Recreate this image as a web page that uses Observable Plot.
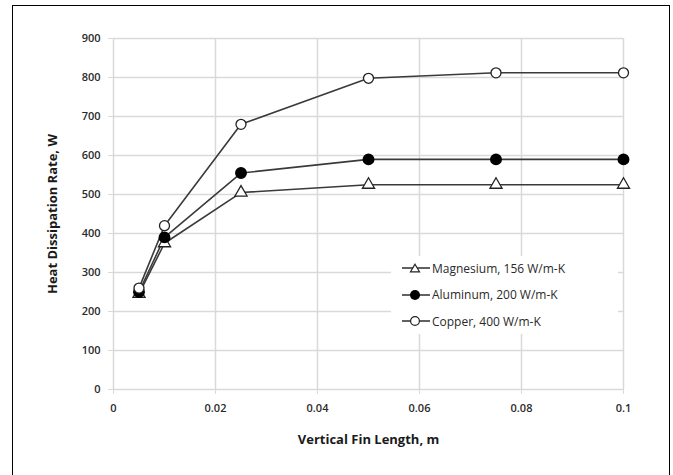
<!DOCTYPE html>
<html><head><meta charset="utf-8">
<script src="https://cdn.jsdelivr.net/npm/d3@7"></script>
<script src="https://cdn.jsdelivr.net/npm/@observablehq/plot@0.6"></script>
<style>
body{margin:0;background:#fff;font-family:"Open Sans",sans-serif;}
#wrap{position:relative;width:673px;height:475px;overflow:hidden;}
#border{position:absolute;left:12px;top:5px;width:658px;height:500px;border:1.5px solid #000;box-sizing:border-box;pointer-events:none}
#chart{position:absolute;left:0;top:0}
#legend{position:absolute;left:391px;top:256px;width:227px;height:78px;background:#fff;}
.row{position:absolute;left:10px;height:16px;display:flex;align-items:center;font-size:12px;color:#2a2a2a;white-space:nowrap}
.row svg{margin-right:1px}
</style></head>
<body><div id="wrap"><div id="chart"></div><div id="legend"></div><div id="border"></div></div>
<script>
const finLength = [0.005, 0.01, 0.025, 0.05, 0.075, 0.1];
const magnesium = [245, 375, 505, 525, 525, 525];
const aluminum  = [250, 390, 555, 590, 590, 590];
const copper    = [260, 420, 680, 798, 812, 812];
const seriesNames = ["Magnesium, 156 W/m-K", "Aluminum, 200 W/m-K", "Copper, 400 W/m-K"];
const xTicks = [0, 0.02, 0.04, 0.06, 0.08, 0.1];
const yTicks = [0, 100, 200, 300, 400, 500, 600, 700, 800, 900];

const seriesValues = [magnesium, aluminum, copper];
const rows = seriesNames.flatMap((s, i) => finLength.map((x, j) => ({series: s, x, y: seriesValues[i][j]})));
const bySeries = s => rows.filter(d => d.series === s);

const lineColor = "#3a3a3a";
const svg = Plot.plot({
  width: 673, height: 475,
  marginLeft: 113, marginRight: 50, marginTop: 38, marginBottom: 86,
  style: {fontFamily: "'Open Sans', sans-serif", fontSize: "11px", background: "transparent"},
  x: {domain: [0, 0.1]},
  y: {domain: [0, 900]},
  marks: [
    Plot.gridX(xTicks, {stroke: "#d9d9d9", strokeOpacity: 1, strokeWidth: 1.5}),
    Plot.gridY(yTicks, {stroke: "#d9d9d9", strokeOpacity: 1, strokeWidth: 1.5}),
    Plot.axisX({ticks: xTicks, tickSize: 5, tickPadding: 10, stroke: "#d9d9d9", strokeOpacity: 1, fill: "#2a2a2a", fontWeight: 600,
      tickFormat: d => d === 0 ? "0" : String(+d.toFixed(2)),
      label: "Vertical Fin Length, m", labelAnchor: "center", labelArrow: "none", labelOffset: 54}),
    Plot.axisY({ticks: yTicks, tickSize: 5, tickPadding: 8, stroke: "#d9d9d9", strokeOpacity: 1, fill: "#2a2a2a", fontWeight: 600,
      label: "Heat Dissipation Rate, W", labelAnchor: "center", labelArrow: "none", labelOffset: 66}),
    ...seriesNames.map(s => Plot.line(bySeries(s), {x: "x", y: "y", stroke: lineColor, strokeWidth: 1.6})),
    Plot.dot(bySeries(seriesNames[0]), {x: "x", y: "y", symbol: "triangle", r: 4.5, fill: "#fff", stroke: "#222", strokeWidth: 1.3}),
    Plot.dot(bySeries(seriesNames[1]), {x: "x", y: "y", r: 5.2, fill: "#000", stroke: "#000"}),
    Plot.dot(bySeries(seriesNames[2]), {x: "x", y: "y", r: 5, fill: "#fff", stroke: "#222", strokeWidth: 1.3})
  ]
});
d3.select(svg).selectAll('g[aria-label="x-axis label"] text, g[aria-label="y-axis label"] text')
  .attr("font-weight", "bold").attr("font-size", "13px").attr("fill", "#1a1a1a");
document.getElementById("chart").appendChild(svg);

// legend
const legend = document.getElementById("legend");
const symbols = [
  '<path d="M14,2.2 L18.5,9.8 L9.5,9.8 Z" fill="#fff" stroke="#222" stroke-width="1.2"/>',
  '<circle cx="14" cy="6" r="5" fill="#000"/>',
  '<circle cx="14" cy="6" r="4.4" fill="#fff" stroke="#222" stroke-width="1.2"/>'
];
seriesNames.forEach((s, i) => {
  const r = document.createElement("div");
  r.className = "row";
  r.style.top = (4 + i * 26.5) + "px";
  r.innerHTML = `<svg width="30" height="12"><line x1="1" y1="6" x2="29" y2="6" stroke="${lineColor}" stroke-width="1.6"/>${symbols[i]}</svg><span>${s}</span>`;
  legend.appendChild(r);
});
</script></body></html>
